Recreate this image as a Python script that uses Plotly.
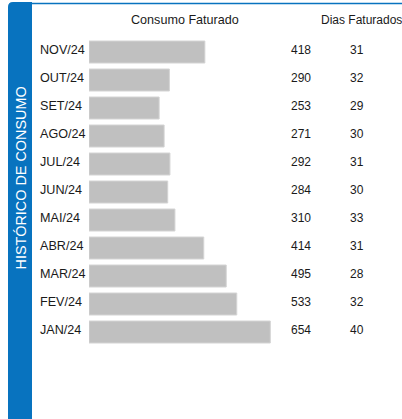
import plotly.graph_objects as go

W, H = 402, 419

meses = ["NOV/24", "OUT/24", "SET/24", "AGO/24", "JUL/24", "JUN/24",
         "MAI/24", "ABR/24", "MAR/24", "FEV/24", "JAN/24"]
consumo = [418, 290, 253, 271, 292, 284, 310, 414, 495, 533, 654]
dias = [31, 32, 29, 30, 31, 30, 33, 31, 28, 32, 40]

titulo = "HISTÓRICO DE CONSUMO"
cab_consumo = "Consumo Faturado"
cab_dias = "Dias Faturados"

FONT = "Liberation Sans, Arial, sans-serif"
BLUE = "#0873BF"


def px(x):
    return x / W


def py(y):
    return 1 - y / H


fig = go.Figure()
fig.add_trace(go.Bar(
    x=consumo, y=meses, orientation="h",
    marker=dict(color="#C0C0C0", line=dict(color="#D4D4D4", width=1)),
    hoverinfo="skip", showlegend=False,
))

annotations = []
for m, c, d in zip(meses, consumo, dias):
    annotations.append(dict(x=px(37.5), y=m, xref="paper", yref="y", text=m,
                            showarrow=False, xanchor="left", yanchor="middle",
                            yshift=2, font=dict(family=FONT, size=12.6, color="#1a1a1a")))
    annotations.append(dict(x=px(288.5), y=m, xref="paper", yref="y", text=str(c),
                            showarrow=False, xanchor="left", yanchor="middle",
                            yshift=2, font=dict(family=FONT, size=12, color="#1a1a1a")))
    annotations.append(dict(x=px(348), y=m, xref="paper", yref="y", text=str(d),
                            showarrow=False, xanchor="left", yanchor="middle",
                            yshift=2, font=dict(family=FONT, size=12, color="#1a1a1a")))

annotations.append(dict(x=px(185), y=py(20), xref="paper", yref="paper", text=cab_consumo,
                        showarrow=False, xanchor="center", yanchor="middle",
                        font=dict(family=FONT, size=12.6, color="#1a1a1a")))
annotations.append(dict(x=px(361), y=py(20), xref="paper", yref="paper", text=cab_dias,
                        showarrow=False, xanchor="center", yanchor="middle",
                        font=dict(family=FONT, size=12, color="#1a1a1a")))
annotations.append(dict(x=px(20.5), y=py(178), xref="paper", yref="paper", text=titulo,
                        showarrow=False, xanchor="center", yanchor="middle", textangle=-90,
                        font=dict(family=FONT, size=14.4, color="white")))

r = 5
band = (f"M {px(8)},{py(419)} L {px(8)},{py(2 + r)} "
        f"Q {px(8)},{py(2)} {px(8 + r)},{py(2)} "
        f"L {px(32)},{py(2)} L {px(32)},{py(419)} Z")
shapes = [
    dict(type="path", path=band, xref="paper", yref="paper",
         fillcolor=BLUE, line=dict(width=0), layer="below"),
    dict(type="line", x0=px(32), x1=px(402), y0=py(3.5), y1=py(3.5),
         xref="paper", yref="paper", line=dict(color=BLUE, width=1.3)),
]

fig.update_layout(
    width=W, height=H,
    margin=dict(l=0, r=0, t=0, b=0),
    paper_bgcolor="white", plot_bgcolor="white",
    bargap=6 / 28,
    xaxis=dict(domain=[px(89), px(89 + 800 * 0.2772)], range=[0, 800],
               visible=False, fixedrange=True),
    yaxis=dict(domain=[py(346), py(38)], categoryorder="array",
               categoryarray=meses, autorange="reversed",
               visible=False, fixedrange=True),
    annotations=annotations,
    shapes=shapes,
)

fig.write_html(
    "out.html",
    config={"displayModeBar": False},
    post_script="document.body.style.margin='0';document.body.style.overflow='hidden';",
)
